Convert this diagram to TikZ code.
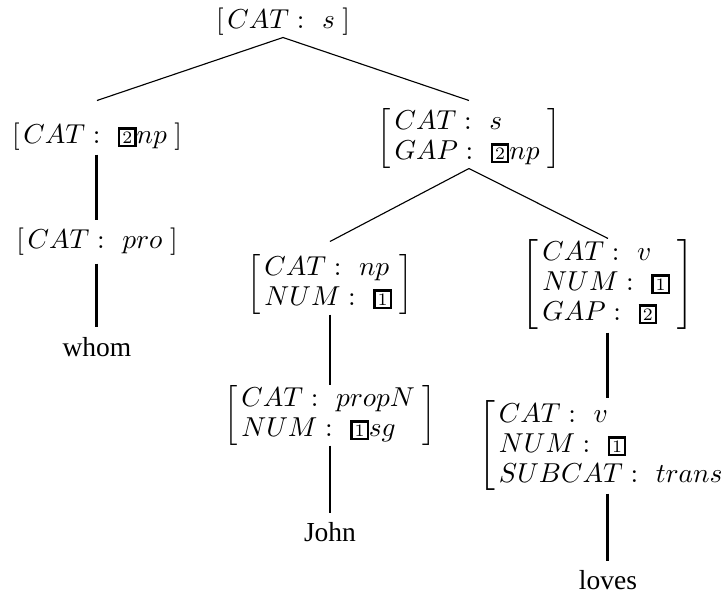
\documentclass[tikz,border=0pt]{standalone}
\usepackage{fontspec}
\setmainfont{Liberation Serif}
\begin{document}
\begin{tikzpicture}[x=0.4pt,y=-0.4pt,
		avm/.style={inner sep=0pt,font=\fontsize{11}{12}\selectfont},
		word/.style={inner sep=0pt,font=\fontsize{11}{13}\selectfont},
		branch/.style={line width=0.45pt},
		stem/.style={line width=1.2pt},
		thinstem/.style={line width=0.8pt}]
	\newcommand{\myavm}[1]{%
		$\left[\begin{array}{@{\hspace{1.5pt}}l@{\hspace{3pt}}}#1\end{array}\right]$%
	}\newcommand{\myfeat}[2]{%
		#1:\hspace{4pt}#2%
	}\newcommand{\mytag}[1]{%
		\mbox{\setlength{\fboxsep}{0.8pt}\setlength{\fboxrule}{0.9pt}\fbox{\fontsize{7.5}{8}\selectfont$#1$}}%
	}%Page frame
	\useasboundingbox (0,0) rectangle (723,594);
	%Feature structures
	\node[avm] (sTop) at (283,22) {\myavm{\myfeat{CAT}{s}}};
	\node[avm] (npWhom) at (97,137) {\myavm{\myfeat{CAT}{\mytag{2}np}}};
	\node[avm] (proWhom) at (97,242) {\myavm{\myfeat{CAT}{pro}}};
	\node[avm] (sGap) at (469,138) {\myavm{\myfeat{CAT}{s}\\ \myfeat{GAP}{\mytag{2}np}}};
	\node[avm] (npJohn) at (330,284) {\myavm{\myfeat{CAT}{np}\\ \myfeat{NUM}{\mytag{1}}}};
	\node[avm] (propJohn) at (330,415) {\myavm{\myfeat{CAT}{propN}\\ \myfeat{NUM}{\mytag{1}sg}}};
	\node[avm] (vLoves) at (608,284) {\myavm{\myfeat{CAT}{v}\\ \myfeat{NUM}{\mytag{1}}\\ \myfeat{GAP}{\mytag{2}}}};
	\node[avm,anchor=west] (transLoves) at (478,446) {\myavm{\myfeat{CAT}{v}\\ \myfeat{NUM}{\mytag{1}}\\ \myfeat{SUBCAT}{trans}}};
	%Words
	\node[word] (whom) at (97,347) {whom};
	\node[word] (john) at (330,532) {John};
	\node[word] (loves) at (608,580) {loves};
	%Feet of the verb line
	\coordinate (vTop) at (vLoves.south |- transLoves.north);
	\coordinate (vBottom) at (vLoves.south |- transLoves.south);
	%Branches
	\draw[branch] (sTop.south) -- ([yshift=8.4pt]npWhom.north);
	\draw[branch] (sTop.south) -- ([yshift=2.8pt]sGap.north);
	\draw[branch] (sGap.south) -- ([yshift=4.8pt]npJohn.north);
	\draw[branch] (sGap.south) -- (vLoves.north);
	%Unary lines
	\draw[stem] ([yshift=-0.8pt]npWhom.south) -- ([yshift=2.8pt]proWhom.north);
	\draw[stem] ([yshift=-2.4pt]proWhom.south) -- ([yshift=4pt]whom.north);
	\draw[thinstem] (npJohn.south) -- (propJohn.north);
	\draw[thinstem] (propJohn.south) -- ([yshift=3.6pt]john.north);
	\draw[stem] ([yshift=-1.2pt]vLoves.south) -- ([yshift=0.8pt]vTop);
	\draw[stem] ([yshift=-0.8pt]vBottom) -- ([yshift=3.6pt]loves.north);
\end{tikzpicture}
\end{document}
